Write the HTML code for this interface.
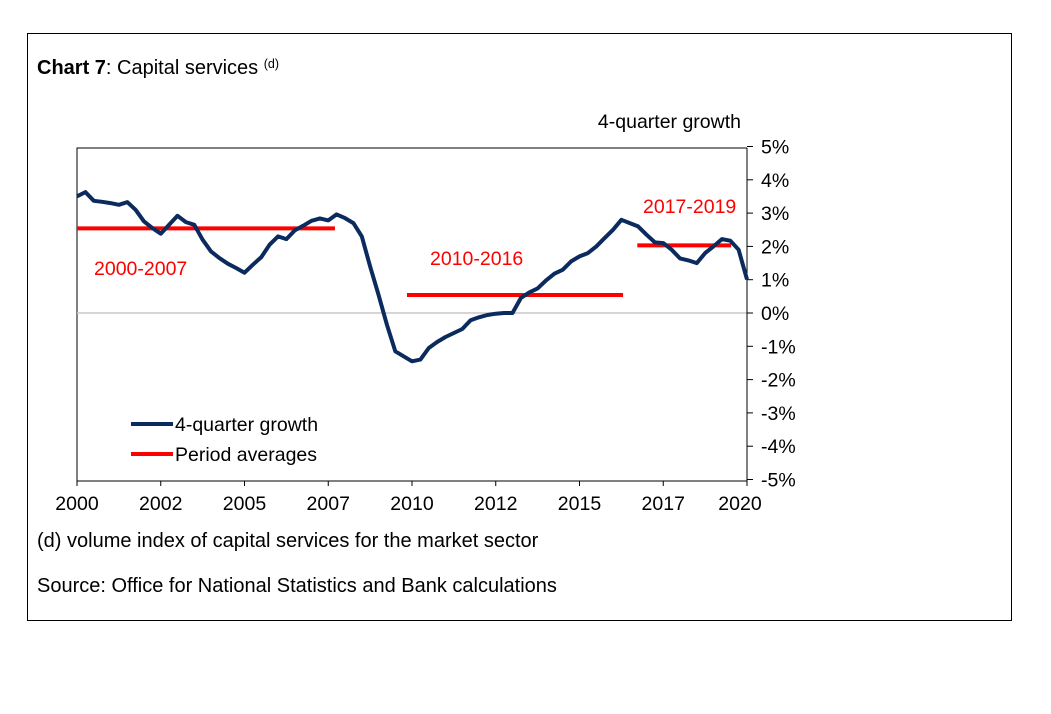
<!DOCTYPE html>
<html><head><meta charset="utf-8"><style>
body{margin:0;background:#fff;width:1051px;height:709px;overflow:hidden;font-family:"Liberation Sans",Arial,sans-serif}
</style></head><body>
<svg width="1051" height="709" xmlns="http://www.w3.org/2000/svg" font-family="Liberation Sans, Arial, sans-serif">
<rect x="27.5" y="33.5" width="984" height="587" fill="none" stroke="#000" stroke-width="1"/>
<text x="37" y="74" font-size="20"><tspan font-weight="bold">Chart 7</tspan>: Capital services <tspan font-size="12.5" dy="-6">(d)</tspan></text>
<text x="741" y="128" font-size="19.5" text-anchor="end">4-quarter growth</text>
<g id="plot"></g>
<text x="37" y="547" font-size="20">(d) volume index of capital services for the market sector</text>
<text x="37" y="592" font-size="20">Source: Office for National Statistics and Bank calculations</text>
</svg>
<script>
const growth=[3.50,3.63,3.37,3.34,3.30,3.25,3.33,3.10,2.75,2.55,2.38,2.65,2.92,2.73,2.65,2.20,1.85,1.65,1.48,1.35,1.21,1.45,1.68,2.05,2.30,2.22,2.48,2.62,2.77,2.84,2.78,2.96,2.85,2.70,2.30,1.40,0.55,-0.35,-1.15,-1.30,-1.45,-1.40,-1.05,-0.87,-0.72,-0.60,-0.48,-0.22,-0.13,-0.06,-0.02,0.0,0.0,0.45,0.62,0.74,0.98,1.18,1.30,1.55,1.70,1.80,2.00,2.25,2.50,2.80,2.70,2.60,2.35,2.12,2.10,1.90,1.64,1.58,1.50,1.80,2.00,2.22,2.17,1.90,1.01];
const avgLabels=["2000-2007","2010-2016","2017-2019"];
const avgValues=[2.54,0.54,2.03];
const avgStart=[0,39.4,66.9];
const avgEnd=[30.8,65.2,78.1];
const xTickLabels=["2000","2002","2005","2007","2010","2012","2015","2017","2020"];
const yTicks=[5,4,3,2,1,0,-1,-2,-3,-4,-5];
const NS="http://www.w3.org/2000/svg";
const L=77,R=747,T=148,B=481;
const x=q=>L+q*(R-L)/80;
const y=v=>313-v*(B-T)/10;
const g=document.getElementById('plot');
function mk(t,a){const e=document.createElementNS(NS,t);for(const k in a)e.setAttribute(k,a[k]);g.appendChild(e);return e;}
let e=mk('path',{d:`M${L},${B} L${L},${T} L${R},${T}`,fill:'none',stroke:'#000','stroke-width':1});


e=mk('line',{x1:L,x2:R,y1:y(0),y2:y(0),stroke:'#c8c8c8','stroke-width':1.5});


e=mk('line',{x1:L,x2:R,y1:B,y2:B,stroke:'#000','stroke-width':1});


e=mk('line',{x1:R,x2:R,y1:T,y2:B,stroke:'#000','stroke-width':1});


yTicks.forEach(v=>{
 let t=mk('line',{x1:R,x2:R+6,y1:y(v),y2:y(v),stroke:'#000'});
 
 
 let tx=mk('text',{x:R+14,y:y(v)+7,'font-size':19.5});
 tx.textContent=v+'%';
 
 
});
xTickLabels.forEach((s,i)=>{
 const q=i*10;
 let t=mk('line',{x1:x(q),x2:x(q),y1:B,y2:B+5,stroke:'#000'});
 
 
 let tx=mk('text',{x:Math.min(x(q),740),y:510,'font-size':19.5,'text-anchor':'middle'});
 tx.textContent=s;
 
 
});
const lblPos=[[94,275],[430,265],[643,213]];
avgValues.forEach((v,i)=>{
 let l=mk('line',{x1:x(avgStart[i]),x2:x(avgEnd[i]),y1:y(v),y2:y(v),stroke:'#ff0000','stroke-width':4});
 
 
 let tx=mk('text',{x:lblPos[i][0],y:lblPos[i][1],'font-size':19.5,fill:'#ff0000'});
 tx.textContent=avgLabels[i];
 
 
});
let d=growth.map((v,i)=>(i?'L':'M')+x(i).toFixed(1)+','+y(v).toFixed(1)).join(' ');
e=mk('path',{d:d,fill:'none',stroke:'#0b2a5e','stroke-width':4,'stroke-linejoin':'round'});


e=mk('line',{x1:131,x2:173,y1:424,y2:424,stroke:'#0b2a5e','stroke-width':4});


e=mk('text',{x:175,y:431,'font-size':19.5});e.textContent='4-quarter growth';


e=mk('line',{x1:131,x2:173,y1:454,y2:454,stroke:'#ff0000','stroke-width':4});


e=mk('text',{x:175,y:461,'font-size':19.5});e.textContent='Period averages';


</script>
</body></html>
